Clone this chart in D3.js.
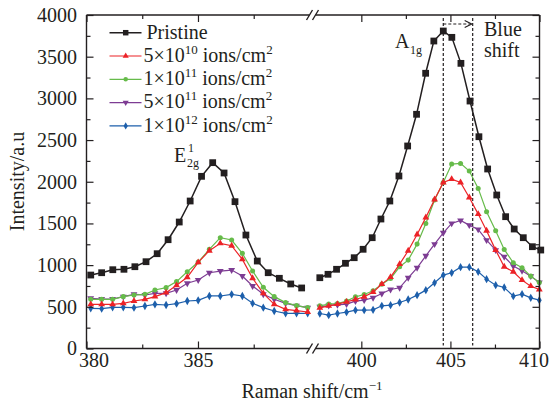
<!DOCTYPE html>
<html><head><meta charset="utf-8">
<script src="https://cdn.jsdelivr.net/npm/d3@7"></script>
<style>body{margin:0;background:#fff}svg{display:block}text{font-family:"Liberation Serif","Times New Roman",serif;fill:#231f20}</style>
</head><body><svg id="c" width="550" height="403"></svg>
<script>
// ---- data ----
const xBlackLeft = [380.19,380.68,381.18,381.68,382.17,382.67,383.17,383.66,384.16,384.65,385.16,385.66,386.17,386.66,387.15,387.66,388.15,388.65,389.16,389.65];
const pristineLeft = [881,909,945,950,981,1041,1137,1305,1517,1769,2065,2229,2105,1761,1361,1049,909,842,774,726];
const xColorLeft = [380.19,380.68,381.17,381.65,382.13,382.62,383.07,383.57,384.04,384.52,385.01,385.51,386.00,386.51,386.99,387.45,387.93,388.42,388.93,389.42,389.92];
const red5e10Left = [530,530,530,542,570,590,622,670,758,854,1033,1173,1261,1233,1069,842,662,530,470,454,438];
const green1e11Left = [590,590,590,622,642,650,702,730,802,921,1037,1189,1329,1301,1141,929,734,622,550,514,490];
const purple5e11Left = [602,594,594,622,650,642,662,662,702,782,822,909,929,941,870,750,650,590,542,514,490];
const blue1e12Left = [482,478,494,494,490,510,530,522,538,570,578,630,630,650,630,542,490,450,422,422,422];

const xBlackRight = [397.67,398.13,398.61,399.11,399.60,400.10,400.61,401.10,401.60,402.11,402.60,403.10,403.61,404.07,404.60,405.08,405.59,406.10,406.60,407.09,407.60,408.10,408.58,409.09,409.60,410.07];
const pristineRight = [849,890,950,1022,1089,1190,1329,1553,1769,2069,2429,2809,3301,3688,3808,3732,3420,2968,2540,2153,1841,1581,1433,1329,1221,1181];
const xColorRight = [397.67,398.17,398.66,399.17,399.67,400.16,400.66,401.15,401.64,402.15,402.63,403.13,403.62,404.11,404.60,405.07,405.57,406.06,406.56,407.03,407.54,408.02,408.53,409.02,409.51,409.99];
const red5e10Right = [488,512,532,560,588,620,676,772,856,1012,1172,1368,1572,1788,1992,2032,1992,1812,1612,1412,1180,980,920,820,748,708];
const green1e11Right = [512,532,540,568,620,648,692,772,840,980,1060,1252,1500,1780,1992,2212,2220,2128,1920,1640,1412,1188,1028,968,868,792];
const purple5e11Right = [500,516,524,532,568,580,608,660,708,728,848,968,1112,1252,1388,1500,1536,1480,1428,1300,1180,1100,988,932,868,792];
const blue1e12Right = [420,400,420,436,460,460,464,512,520,552,588,640,700,788,880,908,976,976,920,832,760,732,628,652,608,580];

const xMajorTicks = [380,385,400,405,410];
const xMinorTicks = [382.5,387.5,402.5,407.5];
const yMajorTicks = [0,500,1000,1500,2000,2500,3000,3500,4000];
const yMinorTicks = [250,750,1250,1750,2250,2750,3250,3750];
const markerLines = [404.6,406.25];

// ---- chart ----
const svg = d3.select("#c");
const ink = "#231f20";
const L=86.5, R=539.5, T=15, B=348.5, brk=[309.5,315.5];
const x = d3.scaleLinear().domain([380,390.15,397.4,410]).range([L,312.8,315,R]);
const y = d3.scaleLinear().domain([0,4000]).range([B,T]);

const series = [
  {name:"Pristine", color:ink, sym:d3.symbolSquare, size:46, w:1.5,
   parts:[[xBlackLeft,pristineLeft],[xBlackRight,pristineRight]]},
  {name:"5e10", color:"#ec2227", sym:d3.symbolTriangle, size:20, w:1.2,
   parts:[[xColorLeft,red5e10Left],[xColorRight,red5e10Right]]},
  {name:"1e11", color:"#66bb4a", sym:d3.symbolCircle, size:20, w:1.2,
   parts:[[xColorLeft,green1e11Left],[xColorRight,green1e11Right]]},
  {name:"5e11", color:"#7d3c93", sym:d3.symbolTriangle, rot:180, size:20, w:1.2,
   parts:[[xColorLeft,purple5e11Left],[xColorRight,purple5e11Right]]},
  {name:"1e12", color:"#1d5fab", sym:d3.symbolDiamond, size:20, w:1.2,
   parts:[[xColorLeft,blue1e12Left],[xColorRight,blue1e12Right]]}
];

// dashed marker lines
markerLines.forEach(v=>{
  svg.append("line").attr("x1",x(v)).attr("x2",x(v)).attr("y1",18).attr("y2",B-3)
    .attr("stroke",ink).attr("stroke-width",1.2).attr("stroke-dasharray","3,2");
});
// arrow
svg.append("line").attr("x1",x(markerLines[0])).attr("x2",x(markerLines[1])-2).attr("y1",24).attr("y2",24)
  .attr("stroke",ink).attr("stroke-width",1.2).attr("stroke-dasharray","3,2");
svg.append("path").attr("d",`M${x(markerLines[1])-8},20.5 L${x(markerLines[1])-1},24 L${x(markerLines[1])-8},27.5`)
  .attr("fill","none").attr("stroke",ink).attr("stroke-width",1.2);

const line = d3.line().x(d=>x(d[0])).y(d=>y(d[1]));
series.slice().reverse().forEach(s=>{
  s.parts.forEach(([xs,ys])=>{
    const pts = xs.map((v,i)=>[v,ys[i]]);
    svg.append("path").attr("d",line(pts)).attr("fill","none").attr("stroke",s.color).attr("stroke-width",s.w);
    svg.append("g").selectAll("path").data(pts).join("path")
      .attr("d",d3.symbol().type(s.sym).size(s.size))
      .attr("transform",d=>`translate(${x(d[0])},${y(d[1])})${s.rot?` rotate(${s.rot})`:""}`)
      .attr("fill",s.color);
  });
});

// frame with breaks
const frame = svg.append("g").attr("stroke",ink).attr("stroke-width",1.4).attr("fill","none");
[T,B].forEach(yy=>{
  frame.append("line").attr("x1",L).attr("x2",brk[0]).attr("y1",yy).attr("y2",yy);
  frame.append("line").attr("x1",brk[1]).attr("x2",R).attr("y1",yy).attr("y2",yy);
  brk.forEach(bx=>frame.append("line").attr("x1",bx-3).attr("x2",bx+3).attr("y1",yy+5).attr("y2",yy-5));
});
frame.append("line").attr("x1",L).attr("x2",L).attr("y1",T).attr("y2",B);
frame.append("line").attr("x1",R).attr("x2",R).attr("y1",T).attr("y2",B);

function styleAxis(g){ g.select(".domain").remove(); g.selectAll("line").attr("stroke",ink).attr("stroke-width",1.2);
  g.selectAll("text").attr("font-family",'"Liberation Serif",serif').attr("font-size",20).attr("fill",ink); }
const xg = svg.append("g").attr("transform",`translate(0,${B})`).call(d3.axisBottom(x).tickValues(xMajorTicks).tickFormat(d3.format("d")).tickSize(-7).tickPadding(4)).call(styleAxis);
// edge labels nudged inward as in the reference
xg.selectAll(".tick text").attr("dx",d=>d===380?7:(d===410?-6:0));
svg.append("g").attr("transform",`translate(0,${B})`).call(d3.axisBottom(x).tickValues(xMinorTicks).tickFormat("").tickSize(-4)).call(styleAxis);
svg.append("g").attr("transform",`translate(0,${T})`).call(d3.axisTop(x).tickValues(xMajorTicks).tickFormat("").tickSize(-7)).call(styleAxis);
svg.append("g").attr("transform",`translate(0,${T})`).call(d3.axisTop(x).tickValues(xMinorTicks).tickFormat("").tickSize(-4)).call(styleAxis);
svg.append("g").attr("transform",`translate(${L},0)`).call(d3.axisLeft(y).tickValues(yMajorTicks).tickFormat(d3.format("d")).tickSize(-7).tickPadding(9.5)).call(styleAxis);
svg.append("g").attr("transform",`translate(${L},0)`).call(d3.axisLeft(y).tickValues(yMinorTicks).tickFormat("").tickSize(-4)).call(styleAxis);
svg.append("g").attr("transform",`translate(${R},0)`).call(d3.axisRight(y).tickValues(yMajorTicks).tickFormat("").tickSize(-7)).call(styleAxis);
svg.append("g").attr("transform",`translate(${R},0)`).call(d3.axisRight(y).tickValues(yMinorTicks).tickFormat("").tickSize(-4)).call(styleAxis);

// axis titles
const xt = svg.append("text").attr("x",312).attr("y",398).attr("text-anchor","middle").attr("font-size",20);
xt.append("tspan").text("Raman shift/cm");
xt.append("tspan").attr("dy",-8).attr("font-size",13).text("\u22121");
svg.append("text").attr("transform","translate(24,181.5) rotate(-90)").attr("text-anchor","middle").attr("font-size",20).text("Intensity/a.u");

// legend
const legendLabels = [["Pristine"],["5\u00d710","10"," ions/cm","2"],["1\u00d710","11"," ions/cm","2"],["5\u00d710","11"," ions/cm","2"],["1\u00d710","12"," ions/cm","2"]];
series.forEach((s,i)=>{
  const yy = 32.7 + i*23.3;
  svg.append("line").attr("x1",109.5).attr("x2",141.5).attr("y1",yy).attr("y2",yy).attr("stroke",s.color).attr("stroke-width",s.w);
  svg.append("path").attr("d",d3.symbol().type(s.sym).size(i===0?30:16)).attr("transform",`translate(125.7,${yy})${s.rot?` rotate(${s.rot})`:""}`).attr("fill",s.color);
  const t = svg.append("text").attr("x",i===0?146.5:143.5).attr("y",yy+5.8).attr("font-size",20);
  const parts = legendLabels[i];
  t.append("tspan").text(parts[0]);
  if(parts.length>1){
    t.append("tspan").attr("dy",-8).attr("font-size",13).text(parts[1]);
    t.append("tspan").attr("dy",8).attr("font-size",20).text(parts[2]);
    t.append("tspan").attr("dy",-8).attr("font-size",13).text(parts[3]);
  }
});

// peak annotations
svg.append("text").attr("x",174).attr("y",162).attr("font-size",20).text("E");
svg.append("text").attr("x",188).attr("y",152).attr("font-size",12).text("1");
svg.append("text").attr("x",187).attr("y",167).attr("font-size",12).text("2g");
svg.append("text").attr("x",395).attr("y",48).attr("font-size",20).text("A");
svg.append("text").attr("x",410).attr("y",54).attr("font-size",12).text("1g");
svg.append("text").attr("x",484).attr("y",36).attr("font-size",20).text("Blue");
svg.append("text").attr("x",484).attr("y",56.5).attr("font-size",20).text("shift");
</script></body></html>
